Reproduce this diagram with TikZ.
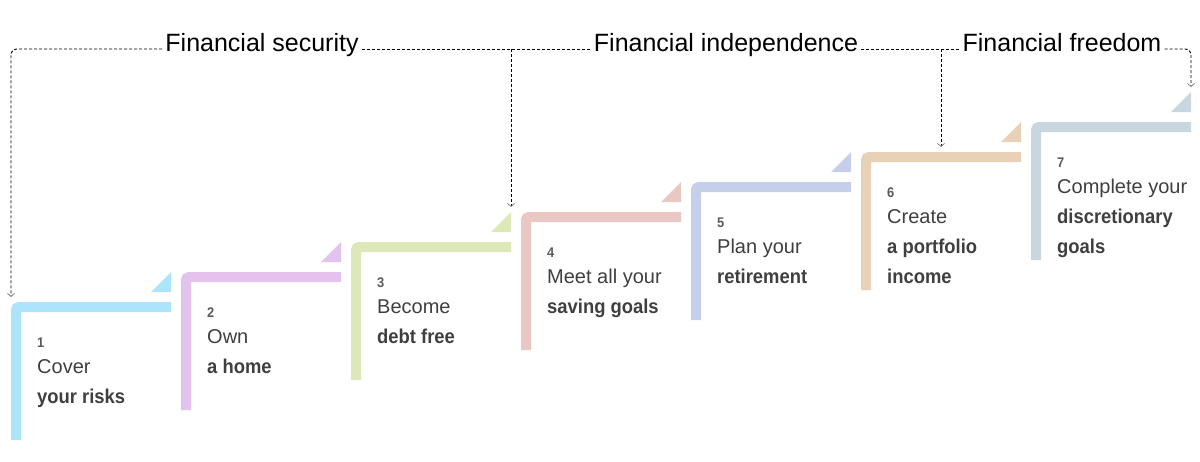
\documentclass[tikz,border=0pt]{standalone}
\usepackage{fontspec}
\setmainfont{Liberation Sans}[BoldFeatures={FakeStretch=0.92}]
\usetikzlibrary{arrows.meta}
\definecolor{cA}{HTML}{ACE5FB}
\definecolor{cB}{HTML}{E3C3EE}
\definecolor{cC}{HTML}{DDE8B9}
\definecolor{cD}{HTML}{E9C7C3}
\definecolor{cE}{HTML}{C5CFEB}
\definecolor{cF}{HTML}{E9D1B7}
\definecolor{cG}{HTML}{C8D7DF}
\definecolor{txt}{HTML}{3F3F3F}
\definecolor{numc}{HTML}{5A5A5A}
\definecolor{tipc}{HTML}{808080}
\begin{document}
\begin{tikzpicture}[x=1pt,y=-1pt,
  conn/.style={draw=black,line width=0.9pt,dash pattern=on 3pt off 2pt},
  tipped/.style={-{Straight Barb[length=3pt,width=7pt,color=tipc,line width=0.8pt]}},
  headtxt/.style={font=\fontsize{25}{30}\selectfont,text=black,inner xsep=3pt,inner ysep=0pt,anchor=base},
  numtxt/.style={font=\bfseries\fontsize{14}{16}\selectfont,text=numc,anchor=base west,inner sep=0pt},
  plaintxt/.style={font=\fontsize{20}{24}\selectfont,text=txt,anchor=base west,inner sep=0pt},
  boldtxt/.style={font=\bfseries\fontsize{20}{24}\selectfont,text=txt,anchor=base west,inner sep=0pt},
  stepbar/.style={line width=10pt,rounded corners=3pt}]
\useasboundingbox (0,0) rectangle (1200,461);

% steps
\foreach \i/\c in {1/cA,2/cB,3/cC,4/cD,5/cE,6/cF,7/cG}{
  \pgfmathsetmacro\x{11+170*(\i-1)}
  \pgfmathsetmacro\y{302-30*(\i-1)}
  \draw[stepbar,draw=\c] (\x+5,\y+138) |- (\x+160,\y+5);
  \fill[\c] (\x+140,\y-10) -- (\x+160,\y-10) -- (\x+160,\y-30) -- cycle;
}

% step texts
\node[numtxt] (n1) at (37,347) {1};
\node[plaintxt] (a1) at (37,373) {Cover};
\node[boldtxt] (b1) at (37,403) {your risks};

\node[numtxt] (n2) at (207,317) {2};
\node[plaintxt] (a2) at (207,343) {Own};
\node[boldtxt] (b2) at (207,373) {a home};

\node[numtxt] (n3) at (377,287) {3};
\node[plaintxt] (a3) at (377,313) {Become};
\node[boldtxt] (b3) at (377,343) {debt free};

\node[numtxt] (n4) at (547,257) {4};
\node[plaintxt] (a4) at (547,283) {Meet all your};
\node[boldtxt] (b4) at (547,313) {saving goals};

\node[numtxt] (n5) at (717,227) {5};
\node[plaintxt] (a5) at (717,253) {Plan your};
\node[boldtxt] (b5) at (717,283) {retirement};

\node[numtxt] (n6) at (887,197) {6};
\node[plaintxt] (a6) at (887,223) {Create};
\node[boldtxt] (b6) at (887,253) {a portfolio};
\node[boldtxt] (c6) at (887,283) {income};

\node[numtxt] (n7) at (1057,167) {7};
\node[plaintxt] (a7) at (1057,193) {Complete your};
\node[boldtxt] (b7) at (1057,223) {discretionary};
\node[boldtxt] (c7) at (1057,253) {goals};

% headers
\node[headtxt] (sec) at (262,51) {Financial security};
\node[headtxt] (ind) at (726,51) {Financial independence};
\node[headtxt] (free) at (1062,51) {Financial freedom};

% connector points
\coordinate (t1) at (11,297);
\coordinate (j1) at (511,49);
\coordinate (t3) at (511,207);
\coordinate (j2) at (941,49);
\coordinate (t6) at (941,147);
\coordinate (t7) at (1191,87);

\draw[conn,tipped,rounded corners=6pt] ([yshift=2pt]sec.base west) -| (t1);
\draw[conn] ([yshift=2pt]sec.base east) -- ([yshift=2pt]ind.base west);
\draw[conn,tipped] (j1) -- (t3);
\draw[conn] ([yshift=2pt]ind.base east) -- ([yshift=2pt]free.base west);
\draw[conn,tipped] (j2) -- (t6);
\draw[conn,tipped,rounded corners=6pt] ([yshift=2pt]free.base east) -| (t7);
\end{tikzpicture}
\end{document}
